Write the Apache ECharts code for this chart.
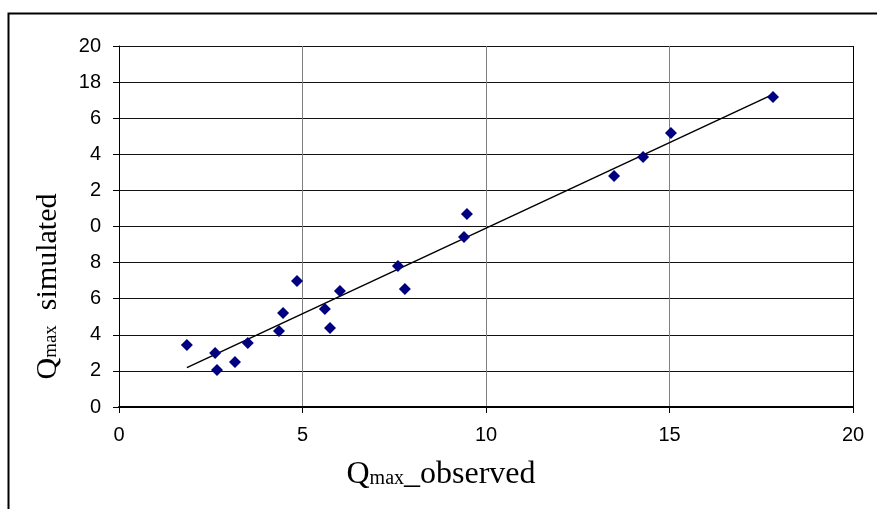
<!DOCTYPE html>
<html>
<head>
<meta charset="utf-8">
<script src="https://cdn.jsdelivr.net/npm/echarts@6/dist/echarts.min.js"></script>
<style>
  html, body { margin: 0; padding: 0; background: #fff; }
  #chart { width: 877px; height: 509px; }
</style>
</head>
<body>
<div id="chart"></div>
<script>
// observed vs simulated Qmax
var observed = [1.85, 2.62, 2.67, 3.16, 3.51, 4.36, 4.47, 4.85, 5.61, 5.75, 6.02, 7.60, 7.79, 9.40, 9.48, 13.49, 14.28, 15.04, 17.82]
var simulated = [3.43, 2.99, 2.05, 2.49, 3.55, 4.21, 5.21, 6.98, 5.43, 4.38, 6.43, 7.81, 6.54, 9.42, 10.69, 12.80, 13.85, 15.18, 17.17]
// tick labels as printed on the original (clipped digits)
var yTickLabels = ['0', '2', '4', '6', '8', '0', '2', '4', '6', '18', '20']
var xTickLabels = ['0', '5', '10', '15', '20']

// least squares trend line, drawn from min to max observed
function trend(xs, ys) {
  var n = xs.length, sx = 0, sy = 0, sxx = 0, sxy = 0
  for (var i = 0; i < n; i++) {
    sx += xs[i]; sy += ys[i]; sxx += xs[i] * xs[i]; sxy += xs[i] * ys[i]
  }
  var b = (n * sxy - sx * sy) / (n * sxx - sx * sx)
  var a = (sy - b * sx) / n
  var x0 = Math.min.apply(null, xs), x1 = Math.max.apply(null, xs)
  return [[x0, a + b * x0], [x1, a + b * x1]]
}

function titleRich(size, subSize) {
  return {
    q: { fontFamily: 'Liberation Serif', fontSize: size, color: '#000' },
    sub: { fontFamily: 'Liberation Serif', fontSize: subSize, color: '#000', padding: [0, 0, -7, 0] },
    t: { fontFamily: 'Liberation Serif', fontSize: size, color: '#000' }
  }
}

var chart = echarts.init(document.getElementById('chart'))

chart.setOption({
  animation: false,
  backgroundColor: '#fff',
  graphic: [{
    type: 'rect',
    left: 6,
    top: 11,
    shape: { width: 900, height: 600 },
    style: { fill: 'none', stroke: '#000', lineWidth: 2 }
  }],
  grid: { left: 119, right: 24, top: 46, bottom: 102 },
  xAxis: {
    type: 'value',
    min: 0,
    max: 20,
    interval: 5,
    name: '{q|Q}{sub|max}{t|_observed}',
    nameLocation: 'middle',
    nameGap: 52,
    nameTextStyle: { rich: titleRich(32, 20), padding: [0, 90, 0, 0] },
    axisLine: { lineStyle: { color: '#000', width: 2 } },
    axisTick: { show: true, length: 6, lineStyle: { color: '#000' } },
    axisLabel: {
      margin: 18,
      fontFamily: 'Liberation Sans',
      fontSize: 20,
      color: '#000',
      formatter: function (v) { return xTickLabels[Math.round(v / 5)] }
    },
    splitLine: {
      show: true,
      lineStyle: { color: ['#000', '#808080', '#808080', '#808080', '#000'], width: 1 }
    }
  },
  yAxis: {
    type: 'value',
    min: 0,
    max: 20,
    interval: 2,
    name: '{q|Q}{sub|max}{t|  simulated}',
    nameLocation: 'middle',
    nameGap: 56,
    nameRotate: 90,
    nameTextStyle: { rich: titleRich(30, 19), padding: [0, 120, 0, 0] },
    axisLine: { show: true, lineStyle: { color: '#000', width: 1 } },
    axisTick: { show: true, length: 6, lineStyle: { color: '#000' } },
    axisLabel: {
      margin: 18,
      fontFamily: 'Liberation Sans',
      fontSize: 20,
      color: '#000',
      formatter: function (v) { return yTickLabels[Math.round(v / 2)] }
    },
    splitLine: { show: true, lineStyle: { color: '#111', width: 1 } }
  },
  series: [{
    name: 'trend',
    type: 'line',
    data: trend(observed, simulated),
    symbol: 'none',
    lineStyle: { color: '#000', width: 1.5 },
    z: 3
  }, {
    name: 'points',
    type: 'scatter',
    data: observed.map(function (x, i) { return [x, simulated[i]] }),
    symbol: 'diamond',
    symbolSize: 12,
    itemStyle: { color: '#000080', opacity: 1 },
    z: 4
  }]
})
</script>
</body>
</html>
